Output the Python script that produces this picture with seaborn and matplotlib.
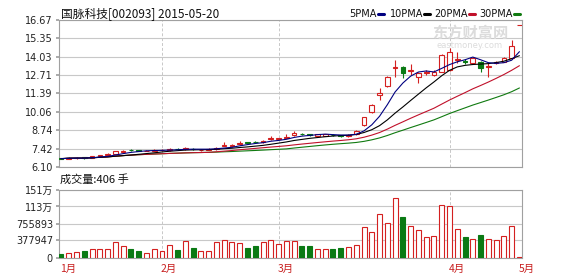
import numpy as np
import pandas as pd
import matplotlib
matplotlib.use('Agg')
import matplotlib.pyplot as plt
from matplotlib.lines import Line2D
import seaborn as sns

# ---------------- data ----------------
opens = [6.75, 6.70, 6.72, 6.80, 6.78, 6.88, 6.96, 7.06, 7.20, 7.34,
         7.30, 7.25, 7.26, 7.30, 7.30, 7.40, 7.38, 7.42, 7.30, 7.32,
         7.38, 7.62, 7.60, 7.74, 7.88, 7.93, 7.90, 8.10, 8.12, 8.20,
         8.38, 8.50, 8.46, 8.36, 8.36, 8.42, 8.38, 8.30, 8.46, 9.12,
         10.03, 11.30, 11.93, 13.20, 13.27, 12.98, 12.55, 12.86, 12.72, 12.96,
         13.08, 13.80, 13.72, 13.60, 13.68, 13.28, 13.56, 13.68, 13.92, 16.28]
closes = [6.70, 6.76, 6.76, 6.74, 6.86, 6.95, 7.02, 7.22, 7.26, 7.30,
          7.26, 7.28, 7.32, 7.33, 7.40, 7.36, 7.44, 7.38, 7.33, 7.40,
          7.50, 7.70, 7.65, 7.86, 7.84, 7.90, 7.99, 8.16, 8.16, 8.25,
          8.56, 8.46, 8.42, 8.44, 8.44, 8.38, 8.32, 8.40, 8.72, 9.67,
          10.56, 11.40, 12.55, 13.30, 12.88, 13.04, 12.88, 12.92, 12.96, 14.16,
          14.40, 13.88, 13.66, 13.92, 13.20, 13.35, 13.62, 13.92, 14.80, 16.28]
highs = [6.78, 6.80, 6.79, 6.82, 6.90, 6.99, 7.08, 7.26, 7.32, 7.38,
         7.33, 7.31, 7.38, 7.40, 7.44, 7.44, 7.52, 7.46, 7.37, 7.44,
         7.54, 7.90, 7.72, 7.95, 7.93, 7.98, 8.03, 8.30, 8.22, 8.45,
         8.66, 8.56, 8.50, 8.48, 8.48, 8.46, 8.42, 8.44, 8.76, 9.70,
         10.60, 11.75, 12.62, 13.80, 13.35, 13.50, 12.96, 13.05, 13.05, 14.25,
         14.63, 14.37, 13.85, 14.00, 13.75, 13.60, 13.70, 14.00, 15.23, 16.28]
lows = [6.66, 6.68, 6.69, 6.70, 6.76, 6.85, 6.93, 7.02, 7.16, 7.24,
        7.22, 7.22, 7.23, 7.27, 7.28, 7.32, 7.35, 7.33, 7.25, 7.30,
        7.35, 7.58, 7.56, 7.70, 7.78, 7.84, 7.86, 8.06, 8.08, 8.16,
        8.34, 8.40, 8.36, 8.32, 8.33, 8.32, 8.26, 8.26, 8.42, 9.08,
        9.98, 10.95, 11.85, 12.60, 12.48, 12.72, 12.12, 12.75, 12.65, 12.90,
        13.00, 13.56, 13.50, 13.55, 12.96, 12.60, 13.48, 13.62, 13.88, 16.28]
volumes = [74000, 104000, 118000, 149000, 200000, 200000, 200000, 340000, 251000, 178000,
           140000, 89000, 193000, 149000, 267000, 162000, 371000, 207000, 140000, 149000,
           349000, 400000, 340000, 333000, 222000, 251000, 349000, 400000, 311000, 371000,
           363000, 252000, 252000, 185000, 178000, 185000, 215000, 237000, 289000, 689000,
           556000, 956000, 778000, 1312000, 896000, 711000, 608000, 445000, 489000, 1178000,
           1141000, 630000, 452000, 408000, 497000, 408000, 386000, 474000, 697000, 406]

month_pos = [0, 13, 28, 50, 59]
month_labels = ['1月', '2月', '3月', '4月', '5月']
price_ticks = [6.10, 7.42, 8.74, 10.06, 11.39, 12.71, 14.03, 15.35, 16.67]
vol_ticks = [0, 377947, 755893, 1133840, 1511786]
vol_tick_labels = ['0', '377947', '755893', '113万', '151万']
ma_windows = [5, 10, 20, 30]
ma_labels = ['5PMA', '10PMA', '20PMA', '30PMA']
ma_colors = ['#000080', '#000000', '#c0102a', '#107a10']
title = '国脉科技[002093] 2015-05-20'
vol_title = '成交量:406 手'

# ---------------- style ----------------
sns.set_theme(style='white')
plt.rcParams['font.family'] = ['DejaVu Sans', 'Noto Sans CJK SC']
CJK = ['Noto Sans CJK SC', 'DejaVu Sans']

UP = '#d42020'
DOWN = '#0a7a14'
GRID = '#c8c8c8'
SPINE = '#a0a0a0'

df = pd.DataFrame({'i': np.arange(len(closes)), 'open': opens, 'close': closes,
                   'high': highs, 'low': lows, 'vol': volumes})
up = df['close'] >= df['open']

fig = plt.figure(figsize=(5.78, 2.76), dpi=100)
W, H = 578, 276
L_px, R_px = 58.5, 522
ax = fig.add_axes([L_px / W, (H - 167) / H, (R_px - L_px) / W, 147 / H])
axv = fig.add_axes([L_px / W, (H - 257.5) / H, (R_px - L_px) / W, 68 / H])

xlim = (-0.32, 59.33)

# ---------------- price panel ----------------
for a in (ax, axv):
    a.set_xlim(*xlim)
    for s in a.spines.values():
        s.set_color(SPINE)
        s.set_linewidth(0.8)
    for m in month_pos[1:4]:
        a.axvline(m, color=GRID, lw=0.7, ls=(0, (3, 2)), zorder=0)

ax.set_ylim(price_ticks[0], price_ticks[-1])
ax.set_yticks(price_ticks)
ax.set_yticklabels([f'{t:.2f}' for t in price_ticks], fontsize=7, color='#222222')
ax.grid(axis='y', color=GRID, lw=0.8)
ax.set_xticks([])
ax.tick_params(axis='y', length=2, pad=2, color=SPINE, left=True)

bw = 0.6
for sel, col in ((up, UP), (~up, DOWN)):
    d = df[sel]
    ax.vlines(d['i'], d['low'], d['high'], color=col, lw=0.8, zorder=2)
d = df[up]
ax.bar(d['i'], d['close'] - d['open'], bottom=d['open'], width=bw,
       facecolor='white', edgecolor=UP, lw=0.8, zorder=3)
d = df[~up]
ax.bar(d['i'], d['close'] - d['open'], bottom=d['open'], width=bw,
       facecolor=DOWN, edgecolor=DOWN, lw=0.8, zorder=3)

for w, lab, col in zip(ma_windows[::-1], ma_labels[::-1], ma_colors[::-1]):
    ma = df['close'].rolling(w, min_periods=1).mean()
    sns.lineplot(x=df['i'], y=ma, ax=ax, color=col, lw=0.8, zorder=4, legend=False)
ax.set_xlabel('')
ax.set_ylabel('')

# ---------------- volume panel ----------------
axv.set_ylim(0, vol_ticks[-1])
axv.set_yticks(vol_ticks)
axv.set_yticklabels(vol_tick_labels, fontsize=7, color='#222222')
for t in axv.get_yticklabels():
    t.set_family(['DejaVu Sans', 'Noto Sans CJK SC'])
axv.grid(axis='y', color=GRID, lw=0.8)
axv.tick_params(axis='y', length=2, pad=2, color=SPINE, left=True)
axv.set_xticks(month_pos)
axv.set_xticklabels([])
axv.tick_params(axis='x', length=0)

d = df[up]
axv.bar(d['i'], d['vol'], width=0.64, facecolor='white', edgecolor=UP, lw=0.8, zorder=3)
d = df[~up]
axv.bar(d['i'], d['vol'], width=0.64, facecolor=DOWN, edgecolor=DOWN, lw=0.8, zorder=3)

for p, lab in zip(month_pos, month_labels):
    axv.annotate(lab, xy=(p, 0), xycoords=('data', 'axes fraction'),
                 xytext=(-1, -11), textcoords='offset pixels', ha='left', va='center',
                 fontsize=7.5, color='#c82020', family=CJK, annotation_clip=False)

# ---------------- texts ----------------
fig.text(61 / W, 1 - 14 / H, title, fontsize=8.5, family=CJK, color='#111111',
         ha='left', va='center')
fig.text(60 / W, 1 - 179 / H, vol_title, fontsize=8, family=CJK, color='#111111',
         ha='left', va='center')

leg_x = [349.5, 390, 434.5, 479.5]
for x0, lab, col in zip(leg_x, ma_labels, ma_colors):
    t = fig.text(x0 / W, 1 - 14 / H, lab, fontsize=7, color='#111111',
                 ha='left', va='center')
    fig.canvas.draw()
    bb = t.get_window_extent()
    x1 = bb.x1 + 1
    fig.add_artist(Line2D([x1 / W, (x1 + 6) / W], [1 - 13.5 / H, 1 - 13.5 / H],
                          color=col, lw=2.2, transform=fig.transFigure))

fig.text(470 / W, 1 - 33 / H, '东方财富网', fontsize=11, family=CJK, color='#dcdcdc',
         ha='center', va='center', weight='bold', zorder=0)
fig.text(470 / W, 1 - 45 / H, 'eastmoney.com', fontsize=6, color='#dcdcdc',
         ha='center', va='center', zorder=0)

fig.savefig('out.png', dpi=100)
